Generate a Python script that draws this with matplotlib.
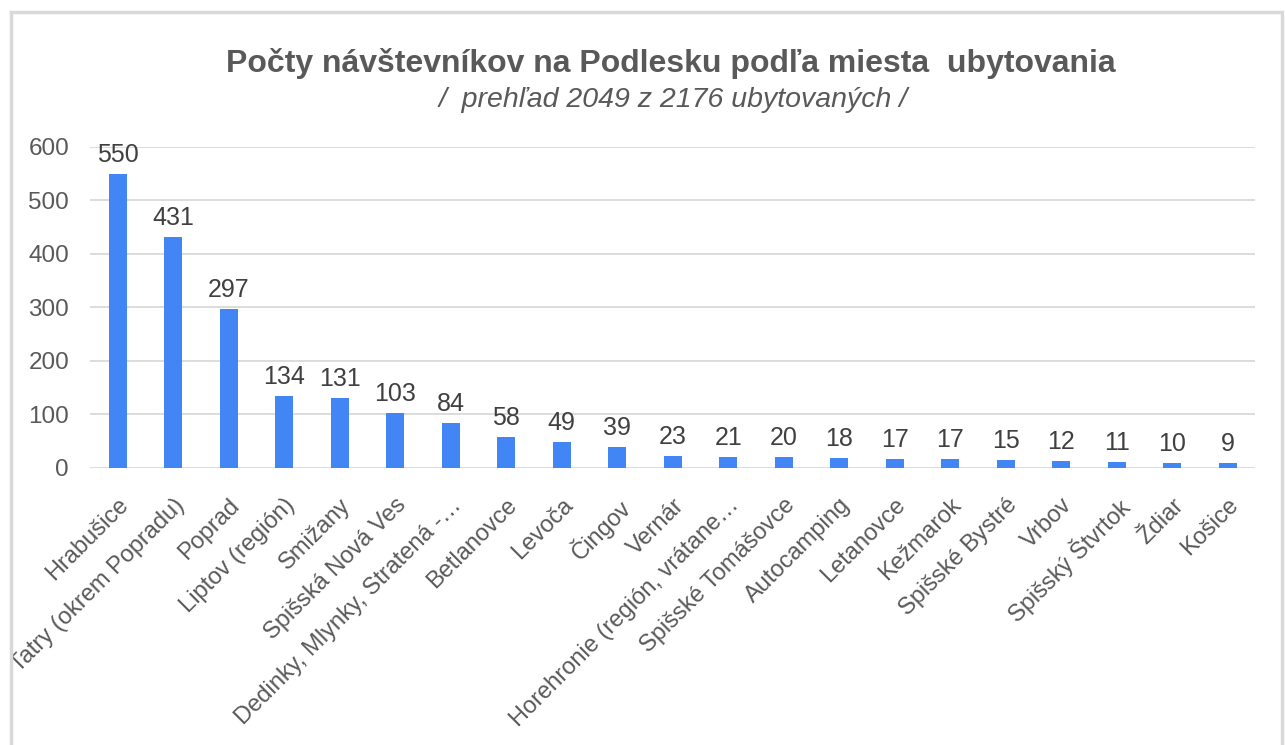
import matplotlib.pyplot as plt
from matplotlib.patches import Rectangle

# data
mesta = ['Hrabušice', 'Vysoké Tatry (okrem Popradu)', 'Poprad', 'Liptov (región)', 'Smižany',
         'Spišská Nová Ves', 'Dedinky, Mlynky, Stratená -…', 'Betlanovce', 'Levoča', 'Čingov',
         'Vernár', 'Horehronie (región, vrátane…', 'Spišské Tomášovce', 'Autocamping',
         'Letanovce', 'Kežmarok', 'Spišské Bystré', 'Vrbov', 'Spišský Štvrtok', 'Ždiar', 'Košice']
pocty = [550, 431, 297, 134, 131, 103, 84, 58, 49, 39, 23, 21, 20, 18, 17, 17, 15, 12, 11, 10, 9]
y_ticks = [0, 100, 200, 300, 400, 500, 600]

plt.rcParams['font.family'] = ['Liberation Sans', 'DejaVu Sans']
sedá = '#595959'

fig = plt.figure(figsize=(12.85, 7.45), dpi=100)
ax = fig.add_axes([0.070, 0.372, 0.907, 0.431])

# ramik okolo grafu
ram = Rectangle((0.0086, -0.1), 0.9891, 1.084, transform=fig.transFigure,
                fill=False, edgecolor='#D9D9D9', linewidth=2.5)
fig.patches.append(ram)

x = range(len(mesta))
ax.bar(x, pocty, width=0.33, color='#4285F4', zorder=3)
for i, v in zip(x, pocty):
    ax.annotate(str(v), (i, v), xytext=(0, 5), textcoords='offset points',
                ha='center', va='bottom', fontsize=18, color='#404040')

ax.set_xlim(-0.5, 20.5)
ax.set_ylim(0, 600)
ax.set_yticks(y_ticks)
ax.set_yticklabels([str(t) for t in y_ticks], fontsize=17.5, color=sedá)
ax.set_xticks(list(x))
ax.set_xticklabels(mesta, rotation=45, ha='right', va='top', rotation_mode='anchor',
                   fontsize=17, color=sedá)
ax.tick_params(length=0, axis='y', pad=15)
ax.tick_params(length=0, axis='x', pad=19)
for lab in ax.get_xticklabels():
    lab.set_clip_path(ram)
    lab.set_clip_on(True)

ax.grid(axis='y', color='#D9D9D9', linewidth=1.3, zorder=0)
for s in ax.spines.values():
    s.set_visible(False)

fig.text(0.522, 0.915, 'Počty návštevníkov na Podlesku podľa miesta  ubytovania',
         ha='center', va='center', fontsize=23, fontweight='bold', color=sedá,
         family=['Liberation Sans Narrow', 'Liberation Sans', 'DejaVu Sans'])
fig.text(0.524, 0.866, '/  prehľad 2049 z 2176 ubytovaných /',
         ha='center', va='center', fontsize=20.5, style='italic', color=sedá,
         family=['Liberation Sans Narrow', 'Liberation Sans', 'DejaVu Sans'])

fig.savefig('out.png', dpi=100, facecolor='white')
